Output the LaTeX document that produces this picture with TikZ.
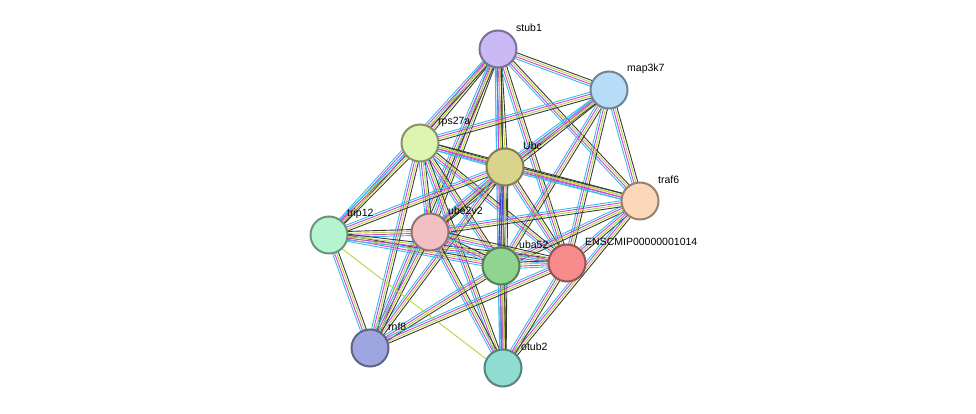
\documentclass[tikz,border=0pt]{standalone}
\usepackage{fontspec}
\setmainfont{Liberation Sans}
\usetikzlibrary{calc,backgrounds}

\definecolor{ecyan}{HTML}{33C0E8}
\definecolor{emag}{HTML}{D040D8}
\definecolor{eyel}{HTML}{B8D43C}
\definecolor{edark}{HTML}{3A3A3A}
\definecolor{eblue}{HTML}{3040C8}
\definecolor{cstub}{HTML}{C9BAF5}
\definecolor{cmap}{HTML}{B6DCF7}
\definecolor{crps}{HTML}{DEF5B2}
\definecolor{cubc}{HTML}{D9D48C}
\definecolor{ctraf}{HTML}{FBD8BA}
\definecolor{ctrip}{HTML}{B4F5D0}
\definecolor{cube}{HTML}{F2C0C2}
\definecolor{cuba}{HTML}{8FD48F}
\definecolor{cens}{HTML}{F78A8A}
\definecolor{crnf}{HTML}{9EA6E0}
\definecolor{cotub}{HTML}{8FDCD0}

\tikzset{
  prot/.style={circle, minimum size=37pt, inner sep=0pt, line width=2pt, fill=#1, draw=#1!60!black},
  lbl/.style={anchor=west, inner sep=0pt, font=\fontsize{10.5}{12}\selectfont}
}

% parallel coloured evidence lines between two proteins
\newcommand\ppiedge[3]{%
  \foreach \c [count=\i] in {#3}{%
    \pgfmathsetmacro\o{(\i-1)*2-3}
    \draw[\c, line width=0.9pt] ($(#1)!\o pt!90:(#2)$) -- ($(#2)!\o pt!-90:(#1)$);
  }}

\begin{document}
\begin{tikzpicture}[x=1pt, y=-1pt]
        \useasboundingbox (0,0) rectangle (976,414);

        % Draw the proteins
        \node (stub1)  [prot=cstub] at (498,49) {};
        \node (map3k7) [prot=cmap] at (609,90) {};
        \node (rps27a) [prot=crps] at (420,143) {};
        \node (ubc)    [prot=cubc] at (505,167) {};
        \node (traf6)  [prot=ctraf] at (640,201) {};
        \node (trip12) [prot=ctrip] at (329,235) {};
        \node (ube2v2) [prot=cube] at (430,232) {};
        \node (uba52)  [prot=cuba] at (501,266) {};
        \node (enscmip)[prot=cens] at (567,263) {};
        \node (rnf8)   [prot=crnf] at (370,348) {};
        \node (otub2)  [prot=cotub] at (503,368) {};

        % Add the labels
        \foreach \p/\t in {stub1/stub1, map3k7/map3k7, rps27a/rps27a, ubc/Ubc, traf6/traf6,
            trip12/trip12, ube2v2/ube2v2, uba52/uba52, enscmip/ENSCMIP00000001014,
            rnf8/rnf8, otub2/otub2}
          \node (\p-lbl) [lbl] at ([shift={(18,-21)}]\p.center) {\t};

        % Draw the interactions
        \begin{scope}[on background layer]
          \foreach \a/\b in {stub1/rps27a, stub1/ubc, stub1/uba52, stub1/enscmip, stub1/ube2v2,
              stub1/trip12, stub1/otub2, stub1/rnf8, stub1/traf6, stub1/map3k7,
              map3k7/rps27a, map3k7/ubc, map3k7/uba52, map3k7/enscmip, map3k7/traf6, map3k7/ube2v2,
              rps27a/ubc, rps27a/uba52, rps27a/enscmip, rps27a/ube2v2, rps27a/trip12,
              rps27a/rnf8, rps27a/otub2, rps27a/traf6,
              ubc/uba52, ubc/enscmip, ubc/traf6, ubc/ube2v2, ubc/trip12, ubc/rnf8, ubc/otub2,
              traf6/uba52, traf6/enscmip, traf6/ube2v2, traf6/otub2,
              trip12/ube2v2, trip12/uba52, trip12/enscmip, trip12/rnf8,
              ube2v2/uba52, ube2v2/enscmip, ube2v2/rnf8, ube2v2/otub2,
              uba52/enscmip, uba52/rnf8, uba52/otub2, enscmip/otub2, enscmip/rnf8}
            \ppiedge{\a}{\b}{ecyan,emag,eyel,edark};
          \ppiedge{trip12}{otub2}{eyel}
          \ppiedge{ubc}{uba52}{eblue,eblue}
        \end{scope}
    \end{tikzpicture}
\end{document}
